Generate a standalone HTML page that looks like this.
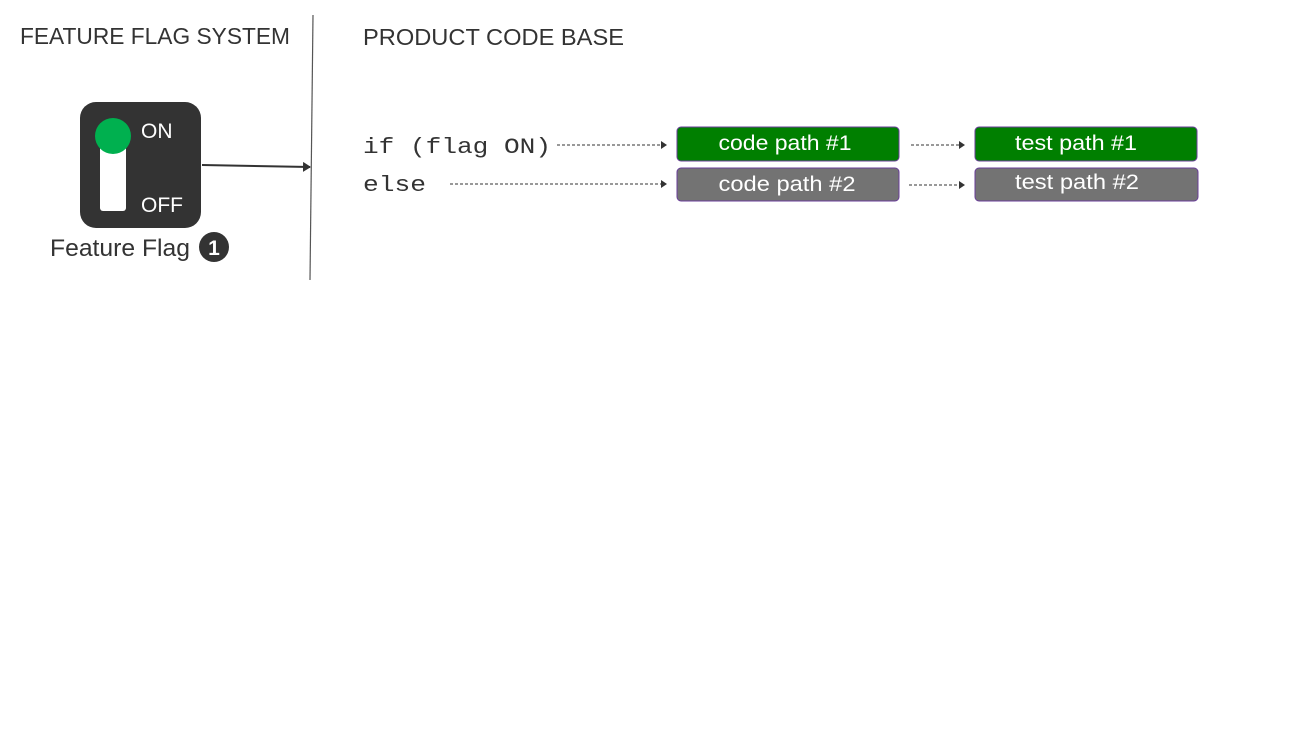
<!DOCTYPE html>
<html><head><meta charset="utf-8"><style>
html,body{margin:0;padding:0;background:#fff;width:1306px;height:734px;overflow:hidden}
svg{display:block}
.s{font-family:"Liberation Sans","DejaVu Sans",sans-serif}
.m{font-family:"Liberation Mono",monospace}
</style></head><body>
<svg width="1306" height="734" viewBox="0 0 1306 734" xmlns="http://www.w3.org/2000/svg">
<defs>
<marker id="a" markerWidth="6" markerHeight="8" refX="5" refY="4" orient="auto" markerUnits="userSpaceOnUse"><path d="M0,0 L6,4 L0,8 z" fill="#333"/></marker>
<marker id="b" markerWidth="8" markerHeight="10" refX="7" refY="5" orient="auto" markerUnits="userSpaceOnUse"><path d="M0,0 L8,5 L0,10 z" fill="#333"/></marker>
</defs>
<text x="20" y="44" class="s" font-size="23" fill="#333" textLength="270" lengthAdjust="spacingAndGlyphs">FEATURE FLAG SYSTEM</text>
<text x="363" y="45" class="s" font-size="23" fill="#333" textLength="261" lengthAdjust="spacingAndGlyphs">PRODUCT CODE BASE</text>
<line x1="313" y1="15" x2="310" y2="280" stroke="#555" stroke-width="1.2"/>
<rect x="80" y="102" width="121" height="126" rx="16" fill="#333"/>
<rect x="100" y="140" width="26" height="71" rx="3" fill="#fff"/>
<circle cx="113" cy="136" r="18" fill="#00b04f"/>
<text x="141" y="138" class="s" font-size="21" fill="#fff">ON</text>
<text x="141" y="212" class="s" font-size="21" fill="#fff">OFF</text>
<line x1="202" y1="165" x2="310" y2="167" stroke="#333" stroke-width="2" marker-end="url(#b)"/>
<text x="50" y="256" class="s" font-size="24" fill="#333" textLength="140" lengthAdjust="spacingAndGlyphs">Feature Flag</text>
<circle cx="214" cy="247" r="15" fill="#333"/>
<text x="214" y="255" class="s" font-size="21" font-weight="bold" fill="#fff" text-anchor="middle">1</text>
<text x="363" y="153" class="m" font-size="22" fill="#333" textLength="188" lengthAdjust="spacingAndGlyphs">if (flag ON)</text>
<text x="363" y="191" class="m" font-size="22" fill="#333" textLength="63" lengthAdjust="spacingAndGlyphs">else</text>
<g stroke="#333" stroke-width="1" stroke-dasharray="3,2" fill="none">
<line x1="557" y1="145" x2="666" y2="145" marker-end="url(#a)"/>
<line x1="450" y1="184" x2="666" y2="184" marker-end="url(#a)"/>
<line x1="911" y1="145" x2="964" y2="145" marker-end="url(#a)"/>
<line x1="909" y1="185" x2="964" y2="185" marker-end="url(#a)"/>
</g>
<rect x="677" y="127" width="222" height="34" rx="4" fill="#007f00" stroke="#6a3d9a" stroke-width="1"/>
<rect x="677" y="168" width="222" height="33" rx="4" fill="#737373" stroke="#6a3d9a" stroke-width="1"/>
<rect x="975" y="127" width="222" height="34" rx="4" fill="#007f00" stroke="#6a3d9a" stroke-width="1"/>
<rect x="975" y="168" width="223" height="33" rx="4" fill="#737373" stroke="#6a3d9a" stroke-width="1"/>
<text x="785" y="150" class="s" font-size="21" fill="#fff" text-anchor="middle" textLength="133" lengthAdjust="spacingAndGlyphs">code path #1</text>
<text x="787" y="191" class="s" font-size="21" fill="#fff" text-anchor="middle" textLength="137" lengthAdjust="spacingAndGlyphs">code path #2</text>
<text x="1076" y="150" class="s" font-size="21" fill="#fff" text-anchor="middle" textLength="122" lengthAdjust="spacingAndGlyphs">test path #1</text>
<text x="1077" y="189" class="s" font-size="21" fill="#fff" text-anchor="middle" textLength="124" lengthAdjust="spacingAndGlyphs">test path #2</text>
</svg>
</body></html>
